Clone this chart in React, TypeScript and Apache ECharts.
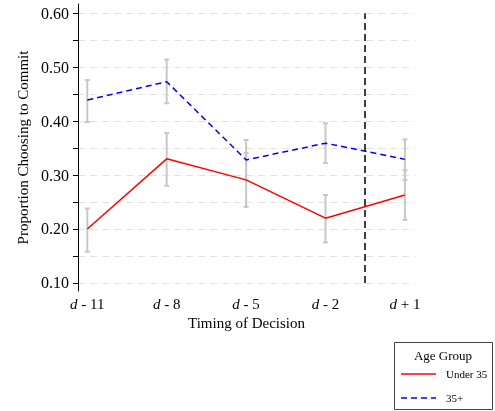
import React, { useEffect, useRef } from "react";
import * as echarts from "echarts";

const timingLabels = ["11", "8", "5", "2", "1"];
const timingSigns = ["-", "-", "-", "-", "+"];
const positions = [0, 1, 2, 3, 4];

const under35 = [0.2, 0.33, 0.291, 0.22, 0.263];
const under35Low = [0.158, 0.28, 0.241, 0.175, 0.217];
const under35High = [0.238, 0.378, 0.341, 0.263, 0.309];

const over35 = [0.439, 0.473, 0.328, 0.359, 0.329];
const over35Low = [0.398, 0.433, 0.29, 0.322, 0.291];
const over35High = [0.476, 0.514, 0.365, 0.396, 0.366];

const yTickValues = [0.1, 0.15, 0.2, 0.25, 0.3, 0.35, 0.4, 0.45, 0.5, 0.55, 0.6];
const yLabelValues = [0.1, 0.2, 0.3, 0.4, 0.5, 0.6];
const decisionLine = 3.5;

const legendNames = ["Under 35", "35+"];

const FONT = "Liberation Serif";

export default function App() {
  const ref = useRef<HTMLDivElement>(null);
  useEffect(() => {
    if (!ref.current) return;
    const chart = echarts.init(ref.current, null, { renderer: "svg" });
    const errData = (lo: number[], hi: number[]) => positions.map((x, i) => [x, lo[i], hi[i]]);
    const errorSeries = (name: string, lo: number[], hi: number[]) => ({
      type: "custom",
      name,
      silent: true,
      z: 1,
      data: errData(lo, hi),
      renderItem: (params: any, api: any) => {
        const x = api.value(0);
        const p1 = api.coord([x, api.value(1)]);
        const p2 = api.coord([x, api.value(2)]);
        const hw = 2.5;
        const st = { stroke: "#c8c8c8", lineWidth: 2 };
        return {
          type: "group",
          children: [
            { type: "line", shape: { x1: p1[0], y1: p1[1], x2: p2[0], y2: p2[1] }, style: st },
            { type: "line", shape: { x1: p1[0] - hw, y1: p1[1], x2: p1[0] + hw, y2: p1[1] }, style: st },
            { type: "line", shape: { x1: p2[0] - hw, y1: p2[1], x2: p2[0] + hw, y2: p2[1] }, style: st },
          ],
        };
      },
    });
    const legendText = (text: string, y: number) => ({
      type: "text",
      x: 446,
      y,
      style: { text, font: `11px ${FONT}`, fill: "#000", textVerticalAlign: "middle" },
    });
    chart.setOption({
      animation: false,
      textStyle: { fontFamily: FONT },
      grid: { left: 78, right: 80, top: 4, bottom: 120 },
      xAxis: {
        type: "value",
        min: -0.117,
        max: 4.127,
        name: "Timing of Decision",
        nameLocation: "middle",
        nameGap: 24,
        nameTextStyle: { fontFamily: FONT, fontSize: 15, color: "#000" },
        axisLine: { show: false, onZero: false },
        axisTick: { show: false, customValues: positions },
        splitLine: { show: false },
        axisLabel: {
          customValues: positions,
          margin: 5,
          color: "#000",
          fontFamily: FONT,
          fontSize: 15,
          formatter: (v: number) => {
            const i = Math.round(v);
            return `{i|d}{n| ${timingSigns[i]} ${timingLabels[i]}}`;
          },
          rich: {
            i: { fontStyle: "italic", fontFamily: FONT, fontSize: 15, color: "#000" },
            n: { fontFamily: FONT, fontSize: 15, color: "#000" },
          },
        },
      },
      yAxis: {
        type: "value",
        min: 0.085,
        max: 0.617,
        name: "Proportion Choosing to Commit",
        nameLocation: "middle",
        nameGap: 48,
        nameTextStyle: { fontFamily: FONT, fontSize: 15, color: "#000" },
        axisLine: { show: true, onZero: false, lineStyle: { color: "#000", width: 1 } },
        axisTick: { show: true, customValues: yTickValues, length: 5, lineStyle: { color: "#000" } },
        axisLabel: {
          customValues: yLabelValues,
          margin: 9,
          color: "#000",
          fontFamily: FONT,
          fontSize: 16,
          formatter: (v: number) => v.toFixed(2),
        },
        splitLine: { show: true, lineStyle: { color: "#e2e2e2", type: [7, 5], width: 1 } },
      },
      graphic: [
        {
          type: "rect",
          left: 394,
          top: 342,
          shape: { width: 98, height: 67 },
          style: { fill: "#fff", stroke: "#444", lineWidth: 1 },
          z: -1,
        },
        {
          type: "text",
          x: 443,
          y: 355,
          style: {
            text: "Age Group",
            font: `13px ${FONT}`,
            fill: "#000",
            textAlign: "center",
            textVerticalAlign: "middle",
          },
        },
        {
          type: "line",
          shape: { x1: 401, y1: 374, x2: 436, y2: 374 },
          style: { stroke: "#ff0000", lineWidth: 1.5 },
        },
        legendText(legendNames[0], 374),
        {
          type: "line",
          shape: { x1: 401, y1: 398, x2: 436, y2: 398 },
          style: { stroke: "#0000ff", lineWidth: 1.5, lineDash: [6, 4] },
        },
        legendText(legendNames[1], 398),
      ],
      series: [
        errorSeries("err-under", under35Low, under35High),
        errorSeries("err-over", over35Low, over35High),
        {
          type: "line",
          name: legendNames[0],
          z: 3,
          data: positions.map((x, i) => [x, under35[i]]),
          symbol: "none",
          lineStyle: { color: "#ff0000", width: 1.5 },
          itemStyle: { color: "#ff0000" },
        },
        {
          type: "line",
          name: legendNames[1],
          z: 3,
          data: positions.map((x, i) => [x, over35[i]]),
          symbol: "none",
          lineStyle: { color: "#0000ff", width: 1.5, type: [6, 4] },
          itemStyle: { color: "#0000ff" },
          markLine: {
            silent: true,
            symbol: "none",
            label: { show: false },
            lineStyle: { color: "#000", width: 1.5, type: [7, 4] },
            data: [[{ coord: [decisionLine, 0.1] }, { coord: [decisionLine, 0.6] }]],
          },
        },
      ],
    });
    return () => chart.dispose();
  }, []);
  return (
    <div
      ref={ref}
      style={{ position: "fixed", left: 0, top: 0, width: 495, height: 411 }}
    />
  );
}
